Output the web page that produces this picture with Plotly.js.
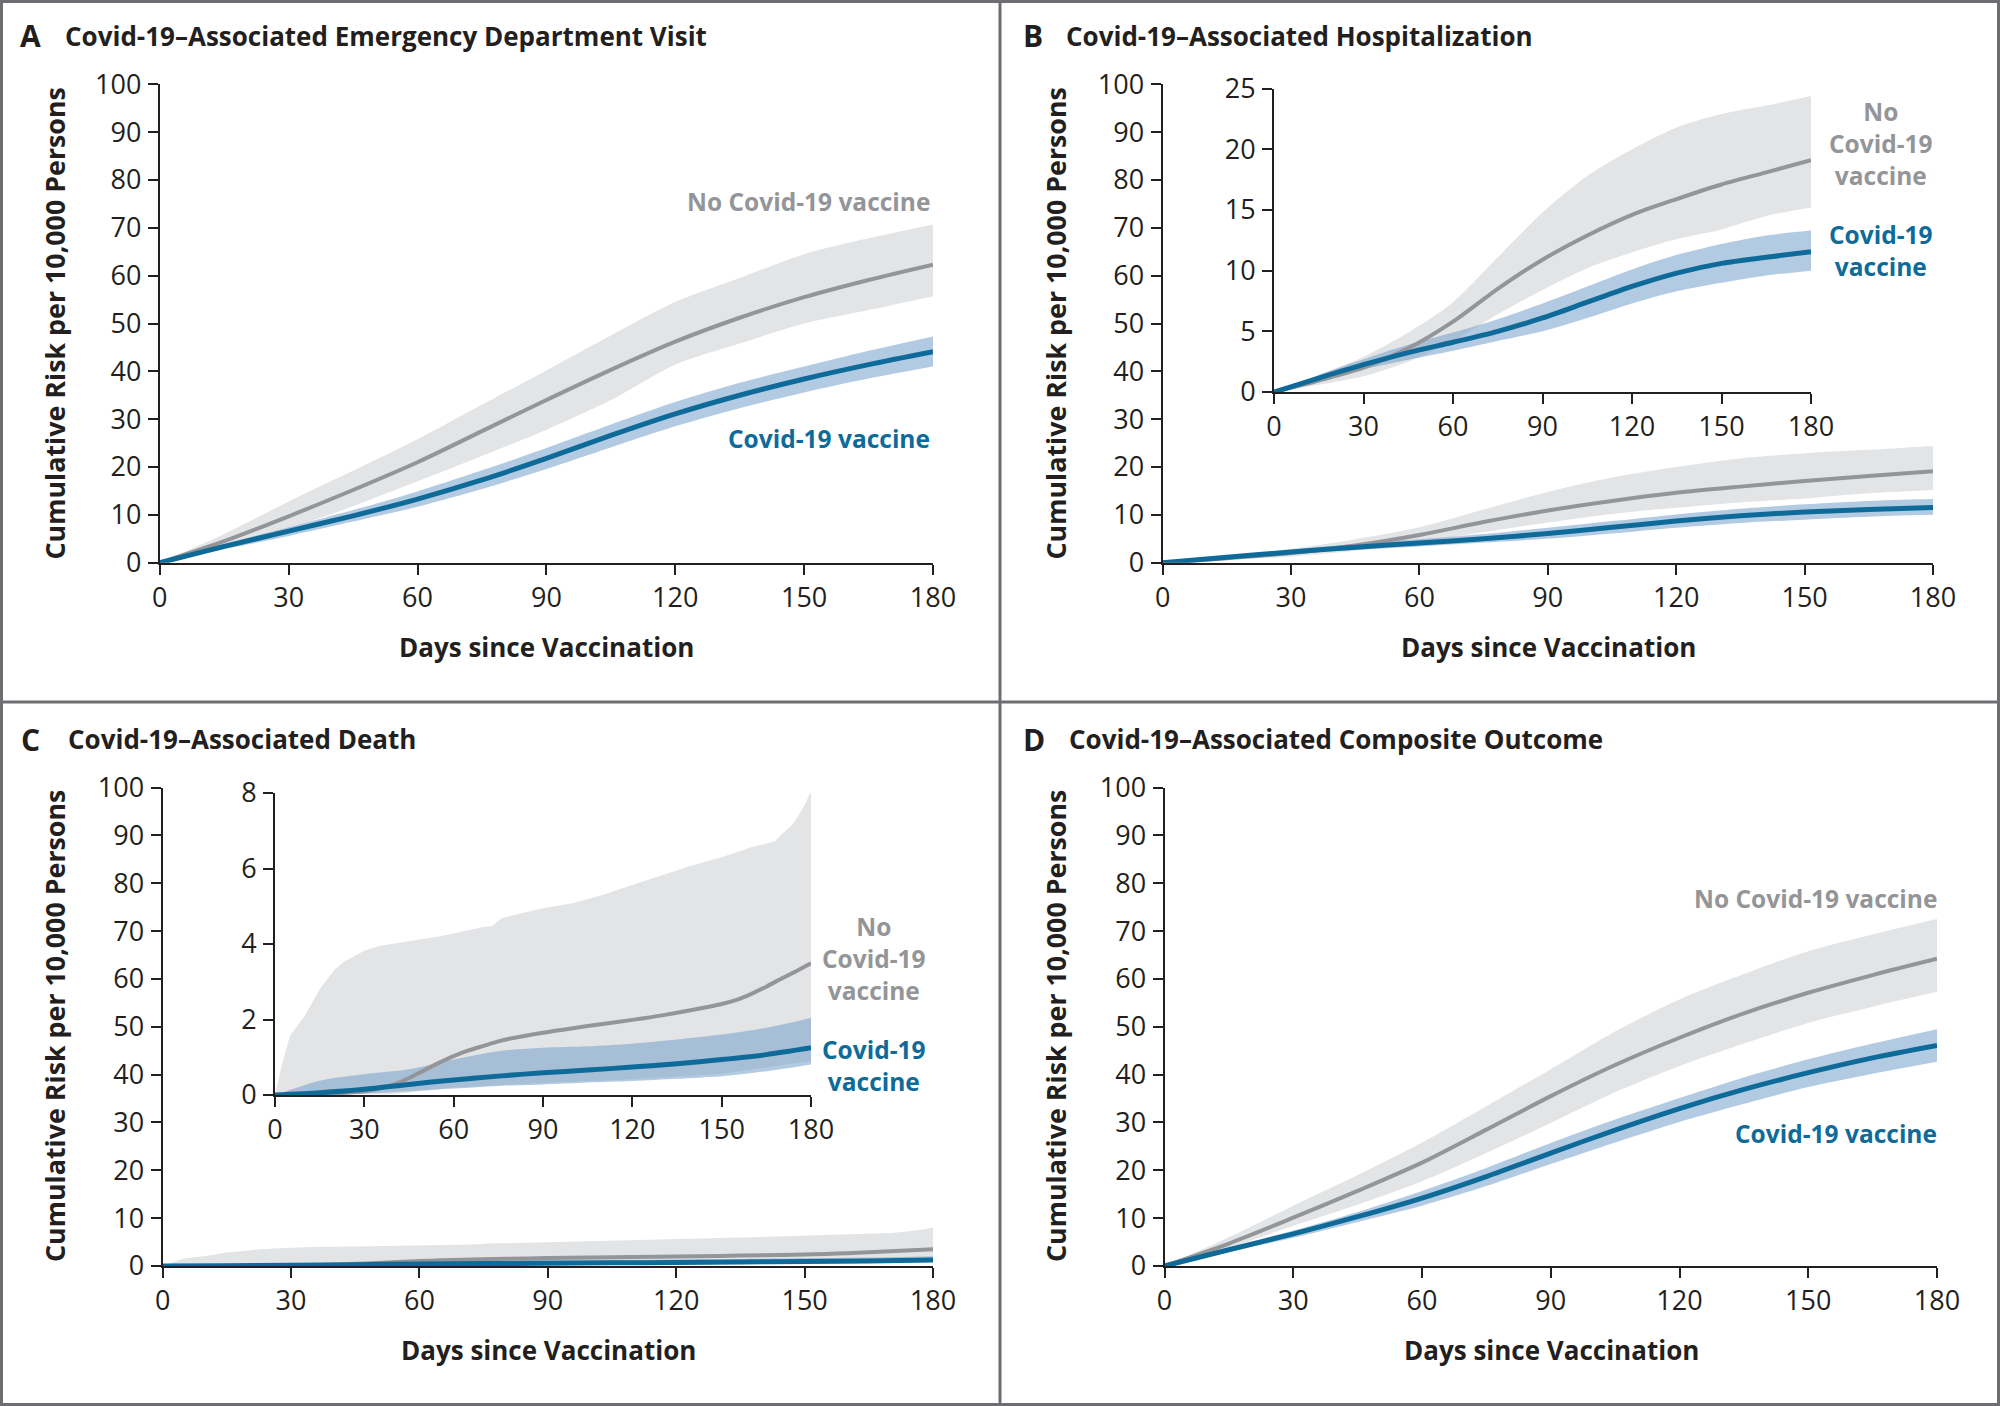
<!DOCTYPE html>
<html>
<head>
<meta charset="utf-8">
<script src="https://cdn.plot.ly/plotly-3.0.1.min.js"></script>
<style>html,body{margin:0;padding:0;background:#fff;}#chart{width:2000px;height:1406px;}</style>
</head>
<body>
<div id="chart"></div>
<script>
// ---------------- DATA ----------------
const days = [0, 15, 30, 45, 60, 75, 90, 105, 120, 135, 150, 165, 180];
const xTicks = [0, 30, 60, 90, 120, 150, 180];
const yTicksMain = [0, 10, 20, 30, 40, 50, 60, 70, 80, 90, 100];
const yTicksHosp = [0, 5, 10, 15, 20, 25];
const yTicksDeath = [0, 2, 4, 6, 8];

// A: Emergency department visit
const edNoVax     = [0, 4.5, 9.7, 15.2, 21.0, 27.5, 34.0, 40.3, 46.2, 51.2, 55.5, 59.1, 62.3];
const edNoVaxHigh = [0, 6.0, 12.8, 19.2, 25.8, 33.0, 40.2, 47.5, 54.5, 59.5, 64.5, 67.8, 70.7];
const edNoVaxLow  = [0, 3.4, 7.2, 11.8, 17.0, 22.3, 27.8, 34.0, 41.4, 45.8, 50.0, 52.8, 55.7];
const edVax       = [0, 3.4, 6.6, 9.8, 13.3, 17.3, 21.8, 26.6, 31.1, 35.0, 38.4, 41.4, 44.1];
const edVaxHigh   = [0, 3.9, 7.4, 11.0, 14.9, 19.3, 24.0, 28.9, 33.6, 37.6, 41.0, 44.3, 47.3];
const edVaxLow    = [0, 2.8, 5.6, 8.6, 11.7, 15.4, 19.6, 24.1, 28.5, 32.3, 35.6, 38.5, 41.0];

// B: Hospitalization
const hospNoVax     = [0, 0.95, 2.0, 3.6, 5.8, 8.5, 10.9, 12.9, 14.6, 15.9, 17.1, 18.1, 19.1];
const hospNoVaxHigh = [0, 1.4, 2.9, 4.9, 7.4, 11.1, 14.8, 17.8, 20.0, 21.8, 22.9, 23.6, 24.4];
const hospNoVaxLow  = [0, 0.6, 1.3, 2.5, 4.2, 6.4, 8.4, 10.2, 11.5, 12.6, 13.4, 14.5, 15.2];
const hospVax       = [0, 1.15, 2.25, 3.25, 4.1, 5.0, 6.1, 7.4, 8.7, 9.8, 10.6, 11.1, 11.55];
const hospVaxHigh   = [0, 1.4, 2.7, 3.9, 4.9, 6.0, 7.3, 8.7, 10.1, 11.3, 12.2, 12.9, 13.3];
const hospVaxLow    = [0, 0.9, 1.85, 2.65, 3.4, 4.2, 5.0, 6.1, 7.3, 8.3, 9.0, 9.6, 10.0];

// C: Death
const deathNoVaxDays = [0, 10, 20, 30, 35, 40, 45, 50, 55, 60, 65, 70, 75, 80, 90, 100, 110, 120, 130, 140, 150, 155, 160, 165, 170, 175, 180];
const deathNoVax     = [0, 0.01, 0.04, 0.1, 0.17, 0.28, 0.45, 0.65, 0.85, 1.03, 1.18, 1.30, 1.42, 1.51, 1.65, 1.77, 1.88, 1.99, 2.11, 2.25, 2.41, 2.52, 2.68, 2.87, 3.08, 3.28, 3.49];
const deathNoVaxHighDays = [0, 2, 5, 10, 15, 20, 23, 26, 30, 35, 45, 55, 60, 70, 73, 76, 80, 90, 100, 110, 120, 130, 140, 150, 160, 165, 168, 170, 173, 175, 178, 180];
const deathNoVaxHigh     = [0, 0.7, 1.56, 2.1, 2.8, 3.32, 3.52, 3.65, 3.82, 3.95, 4.07, 4.2, 4.28, 4.45, 4.48, 4.68, 4.76, 4.95, 5.08, 5.3, 5.56, 5.83, 6.08, 6.3, 6.56, 6.66, 6.72, 6.9, 7.1, 7.3, 7.7, 8.05];
const deathNoVaxLowDays = [0, 40, 60, 90, 120, 150, 180];
const deathNoVaxLow     = [0, 0.02, 0.2, 0.32, 0.42, 0.56, 0.9];
const deathVax     = [0, 0.06, 0.15, 0.28, 0.4, 0.5, 0.59, 0.66, 0.74, 0.83, 0.94, 1.07, 1.25];
const deathVaxHigh = [0, 0.38, 0.55, 0.68, 0.94, 1.16, 1.25, 1.29, 1.36, 1.47, 1.6, 1.78, 2.04];
const deathVaxLow  = [0, 0.02, 0.04, 0.1, 0.17, 0.24, 0.28, 0.33, 0.37, 0.43, 0.5, 0.63, 0.81];

// D: Composite outcome
const compNoVax     = [0, 4.7, 10.1, 15.7, 21.6, 28.5, 35.5, 42.0, 47.7, 52.8, 57.1, 60.8, 64.2];
const compNoVaxHigh = [0, 6.0, 12.6, 19.0, 25.8, 33.4, 41.1, 49.0, 55.7, 61.0, 65.8, 69.3, 72.5];
const compNoVaxLow  = [0, 3.8, 8.4, 12.8, 17.7, 23.6, 29.9, 36.3, 41.8, 46.5, 50.8, 54.2, 57.3];
const compVax       = [0, 3.4, 6.7, 10.3, 14.2, 18.7, 23.6, 28.4, 32.9, 36.9, 40.4, 43.5, 46.1];
const compVaxHigh   = [0, 3.8, 7.4, 11.3, 15.7, 20.5, 25.7, 30.6, 35.1, 39.4, 43.2, 46.5, 49.5];
const compVaxLow    = [0, 2.9, 5.9, 9.2, 12.6, 16.7, 21.3, 25.8, 30.1, 33.9, 37.4, 40.2, 42.7];

// ---------------- STYLE ----------------
const W = 2000, H = 1406;
const GRAY_LINE = '#939598', GRAY_BAND = '#e3e4e6';
const BLUE_LINE = '#0e6b99', BLUE_BAND = 'rgba(110,155,200,0.52)';
const INK = '#231f20';
const FONT = 'Open Sans';
const px = v => v / W;
const py = v => 1 - v / H;

const traces = [];
function band(xs, lo, hi, xa, ya, color, shape) {
  traces.push({x: xs[0], y: lo, xaxis: xa, yaxis: ya, type: 'scatter', mode: 'lines',
    line: {width: 0, shape: shape || 'spline', smoothing: 0.8}, hoverinfo: 'skip', showlegend: false});
  traces.push({x: xs[1], y: hi, xaxis: xa, yaxis: ya, type: 'scatter', mode: 'lines', fill: 'tonexty',
    fillcolor: color, line: {width: 0, shape: shape || 'spline', smoothing: 0.8}, hoverinfo: 'skip', showlegend: false});
}
function line(xs, ys, xa, ya, color, w) {
  traces.push({x: xs, y: ys, xaxis: xa, yaxis: ya, type: 'scatter', mode: 'lines',
    line: {color: color, width: w, shape: 'spline', smoothing: 0.8}, hoverinfo: 'skip', showlegend: false});
}
function panel(xa, ya, d) {
  band([d.x, d.x], d.nvLo, d.nvHi, xa, ya, GRAY_BAND);
  band([d.x, d.x], d.vLo, d.vHi, xa, ya, BLUE_BAND);
  line(d.x, d.nv, xa, ya, GRAY_LINE, 4);
  line(d.x, d.v, xa, ya, BLUE_LINE, 5);
}
const edData = {x: days, nv: edNoVax, nvLo: edNoVaxLow, nvHi: edNoVaxHigh, v: edVax, vLo: edVaxLow, vHi: edVaxHigh};
const hospData = {x: days, nv: hospNoVax, nvLo: hospNoVaxLow, nvHi: hospNoVaxHigh, v: hospVax, vLo: hospVaxLow, vHi: hospVaxHigh};
const compData = {x: days, nv: compNoVax, nvLo: compNoVaxLow, nvHi: compNoVaxHigh, v: compVax, vLo: compVaxLow, vHi: compVaxHigh};

panel('x', 'y', edData);
panel('x2', 'y2', hospData);
panel('x3', 'y3', hospData);
function deathPanel(xa, ya) {
  band([deathNoVaxLowDays, deathNoVaxHighDays], deathNoVaxLow, deathNoVaxHigh, xa, ya, GRAY_BAND, 'linear');
  band([days, days], deathVaxLow, deathVaxHigh, xa, ya, BLUE_BAND);
  line(deathNoVaxDays, deathNoVax, xa, ya, GRAY_LINE, 4);
  line(days, deathVax, xa, ya, BLUE_LINE, 5);
}
deathPanel('x4', 'y4');
deathPanel('x5', 'y5');
panel('x6', 'y6', compData);

// ---------------- AXES ----------------
const tickfont = {family: FONT, size: 27, color: INK};
function xAxis(x0, x1, anchor) {
  return {domain: [px(x0), px(x1)], range: [0, 180], anchor: anchor, tickvals: xTicks, ticktext: xTicks.map(String),
    ticks: 'outside', ticklen: 10, tickwidth: 2, tickcolor: INK, showline: true, linecolor: INK, linewidth: 2,
    showgrid: false, zeroline: false, tickfont: tickfont, fixedrange: true};
}
function yAxis(y0, y1, anchor, max, vals) {
  return {domain: [py(y0), py(y1)], range: [0, max], anchor: anchor, tickvals: vals, ticktext: vals.map(String),
    ticks: 'outside', ticklen: 10, tickwidth: 2, tickcolor: INK, showline: true, linecolor: INK, linewidth: 2,
    showgrid: false, zeroline: false, tickfont: tickfont, fixedrange: true, ticklabelstandoff: 1};
}

// ---------------- TEXT ----------------
const ann = [];
function txt(text, x, y, opts) {
  ann.push(Object.assign({text: text, x: px(x), y: py(y), xref: 'paper', yref: 'paper', showarrow: false,
    xanchor: 'left', yanchor: 'middle', font: {family: FONT, size: 26, color: INK, weight: 700}}, opts || {}));
}
const panelTitles = [
  ['A', 'Covid-19–Associated Emergency Department Visit', 18, 63, 36],
  ['B', 'Covid-19–Associated Hospitalization', 1021, 1064, 36],
  ['C', 'Covid-19–Associated Death', 19, 66, 739],
  ['D', 'Covid-19–Associated Composite Outcome', 1021, 1067, 739]
];
panelTitles.forEach(t => {
  txt(t[0], t[2], t[4], {font: {family: FONT, size: 30, color: INK, weight: 700}});
  txt(t[1], t[3], t[4], {font: {family: FONT, size: 26, color: INK, weight: 700}});
});
const yTitle = 'Cumulative Risk per 10,000 Persons';
[[54, 323.5], [1055, 323.5], [54, 1026], [1055, 1026]].forEach(p =>
  txt(yTitle, p[0], p[1], {xanchor: 'center', textangle: -90, font: {family: FONT, size: 26.8, color: INK, weight: 700}}));
const xTitle = 'Days since Vaccination';
[[546, 647], [1548, 647], [548, 1350], [1551, 1350]].forEach(p =>
  txt(xTitle, p[0], p[1], {xanchor: 'center', font: {family: FONT, size: 26, color: INK, weight: 700}}));

const grayFont = {family: FONT, size: 24.5, color: GRAY_LINE, weight: 700};
const blueFont = {family: FONT, size: 24.5, color: BLUE_LINE, weight: 700};
txt('No Covid-19 vaccine', 932, 202, {xanchor: 'right', font: grayFont});
txt('Covid-19 vaccine', 932, 438, {xanchor: 'right', font: blueFont});
txt('No Covid-19 vaccine', 1939, 898, {xanchor: 'right', font: grayFont});
txt('Covid-19 vaccine', 1939, 1133, {xanchor: 'right', font: blueFont});
txt('No<br>Covid-19<br>vaccine', 1881, 143, {xanchor: 'center', font: grayFont});
txt('Covid-19<br>vaccine', 1881, 250, {xanchor: 'center', font: blueFont});
txt('No<br>Covid-19<br>vaccine', 874, 958, {xanchor: 'center', font: grayFont});
txt('Covid-19<br>vaccine', 874, 1065, {xanchor: 'center', font: blueFont});

// ---------------- BORDERS ----------------
const BORDER = '#6d6e71';
const shapes = [
  {type: 'rect', xref: 'paper', yref: 'paper', x0: px(1.5), x1: px(1998.5), y0: py(1404.5), y1: py(1.5), line: {color: BORDER, width: 3}},
  {type: 'line', xref: 'paper', yref: 'paper', x0: px(1000), x1: px(1000), y0: 0, y1: 1, line: {color: BORDER, width: 3}},
  {type: 'line', xref: 'paper', yref: 'paper', x0: 0, x1: 1, y0: py(702), y1: py(702), line: {color: BORDER, width: 3}}
];

const layout = {
  width: W, height: H, margin: {l: 0, r: 0, t: 0, b: 0},
  paper_bgcolor: '#fff', plot_bgcolor: 'rgba(0,0,0,0)', showlegend: false,
  font: {family: FONT, color: INK},
  xaxis: xAxis(159.8, 933, 'y'), yaxis: yAxis(562.7, 84.3, 'x', 100, yTicksMain),
  xaxis2: xAxis(1162.6, 1933, 'y2'), yaxis2: yAxis(562.7, 84.3, 'x2', 100, yTicksMain),
  xaxis3: xAxis(1274, 1811, 'y3'), yaxis3: yAxis(392, 88.6, 'x3', 25, yTicksHosp),
  xaxis4: xAxis(162.6, 933, 'y4'), yaxis4: yAxis(1266, 787.5, 'x4', 100, yTicksMain),
  xaxis5: xAxis(275, 811, 'y5'), yaxis5: yAxis(1095, 793, 'x5', 8, yTicksDeath),
  xaxis6: xAxis(1164.5, 1937, 'y6'), yaxis6: yAxis(1266, 787.5, 'x6', 100, yTicksMain),
  annotations: ann, shapes: shapes
};
Plotly.newPlot('chart', traces, layout, {staticPlot: true, displayModeBar: false});
</script>
</body>
</html>
